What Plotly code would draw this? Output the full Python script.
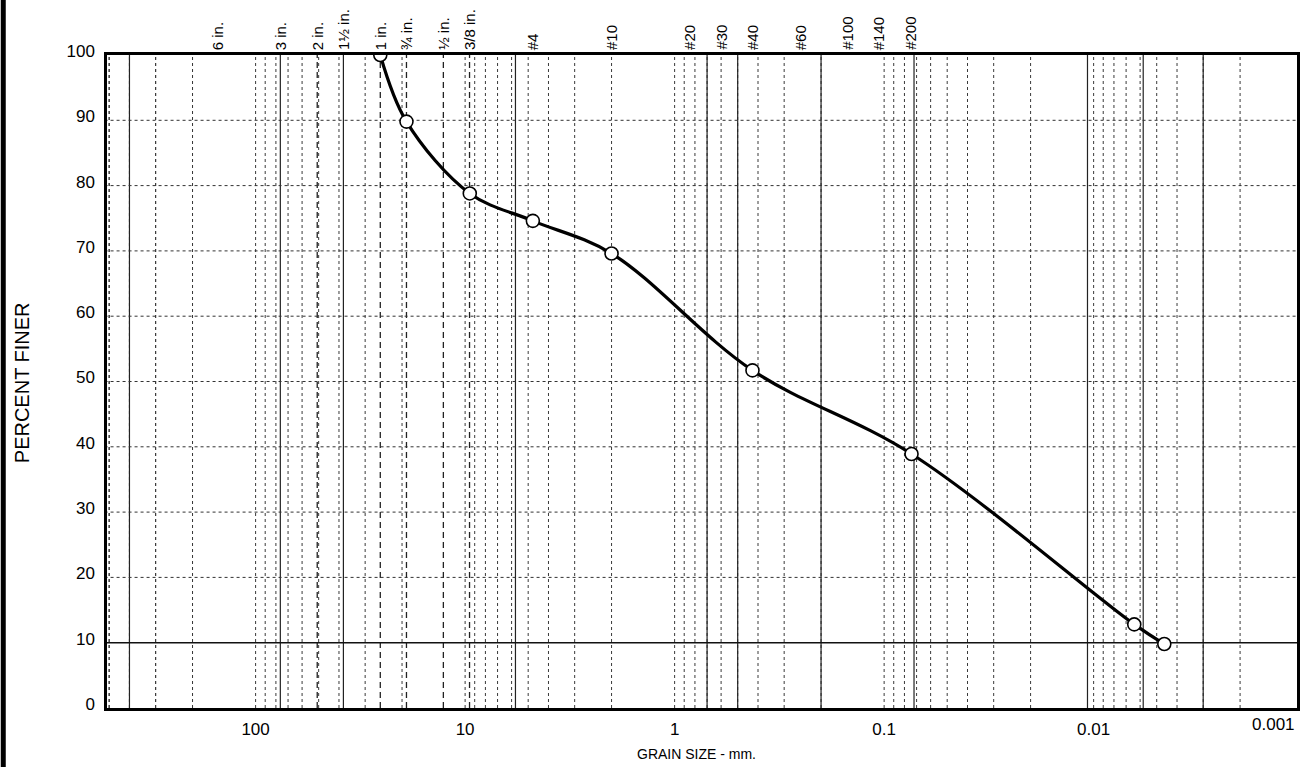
import numpy as np
import plotly.graph_objects as go

# ---- data ----
grain_mm = [25.4, 19.05, 9.5, 4.75, 2.0, 0.425, 0.074, 0.0064, 0.0046]
percent_finer = [100.0, 89.8, 78.8, 74.6, 69.6, 51.7, 38.9, 12.8, 9.8]

sieve_labels = ["6 in.", "3 in.", "2 in.", "1½ in.", "1 in.", "¾ in.", "½ in.", "3/8 in.",
                "#4", "#10", "#20", "#30", "#40", "#60", "#100", "#140", "#200"]
sieve_mm = [152.4, 76.2, 50.8, 38.1, 25.4, 19.05, 12.7, 9.525,
            4.75, 2.0, 0.85, 0.6, 0.425, 0.25, 0.15, 0.106, 0.075]

x_tick_vals = [100, 10, 1, 0.1, 0.01]
x_tick_text = ["100", "10", "1", "0.1", "0.01"]
x_last_label = "0.001"
y_tick_vals = list(range(0, 101, 10))

# grid sizes (mm)
minor_grid_mm = [n * 10.0 ** k for k in range(-3, 3) for n in range(1, 10)] + [200, 300, 400, 500]
heavy_grid_mm = [400, 76.2, 38.1, 5.75, 0.7, 0.5, 0.2, 0.072, 0.0107, 0.0058, 0.003]
dashed_grid_mm = [25.4, 19.05, 9.525, 50.8, 12.7]
h_dotted = [20, 30, 40, 50, 60, 70, 80, 90]
h_solid = [10]

FONT = "Liberation Sans, Arial, sans-serif"

fig = go.Figure()

def vlines(vals, **line):
    xs, ys = [], []
    for v in vals:
        xs += [v, v, None]
        ys += [0, 100, None]
    fig.add_trace(go.Scatter(x=xs, y=ys, mode="lines", line=line,
                             hoverinfo="skip", showlegend=False))

def hlines(vals, **line):
    xs, ys = [], []
    for v in vals:
        xs += [600, 0.0009, None]
        ys += [v, v, None]
    fig.add_trace(go.Scatter(x=xs, y=ys, mode="lines", line=line,
                             hoverinfo="skip", showlegend=False))

vlines(minor_grid_mm, color="#3a3a3a", width=1, dash="dot")
vlines(dashed_grid_mm, color="#222222", width=1.3, dash="6px,4px")
vlines(heavy_grid_mm, color="#222222", width=1.2)
hlines(h_dotted, color="#333333", width=1, dash="dot")
hlines(h_solid, color="#111111", width=1.4)

fig.add_trace(go.Scatter(
    x=grain_mm, y=percent_finer, mode="lines+markers",
    line=dict(color="black", width=3.2, shape="spline", smoothing=1.0),
    marker=dict(symbol="circle", size=13, color="white",
                line=dict(color="black", width=1.6)),
    showlegend=False))

annotations = []
for lab, mm in zip(sieve_labels, sieve_mm):
    annotations.append(dict(
        x=np.log10(mm), y=1, xref="x", yref="paper",
        text=lab, textangle=-90, showarrow=False,
        xanchor="center", yanchor="bottom", yshift=3,
        font=dict(family=FONT, size=15, color="black")))

annotations.append(dict(x=1, y=0, xref="paper", yref="paper", text=x_last_label,
                        showarrow=False, xanchor="right", yanchor="top", yshift=-5,
                        font=dict(family=FONT, size=17, color="black")))
annotations.append(dict(x=(22 - 107) / 1193, y=(708 - 383) / 653, xref="paper", yref="paper",
                        text="PERCENT FINER", textangle=-90, showarrow=False,
                        xanchor="center", yanchor="middle",
                        font=dict(family=FONT, size=20, color="black")))
annotations.append(dict(x=(698 - 107) / 1193, y=(708 - 754) / 653, xref="paper", yref="paper",
                        text="GRAIN SIZE - mm.", showarrow=False,
                        xanchor="center", yanchor="middle",
                        font=dict(family=FONT, size=14, color="black")))

fig.update_layout(
    width=1305, height=767,
    margin=dict(l=107, r=5, t=55, b=59),
    paper_bgcolor="white", plot_bgcolor="white",
    font=dict(family=FONT, size=17, color="black"),
    annotations=annotations,
    shapes=[dict(type="line", xref="paper", yref="paper",
                 x0=(3 - 107) / 1193, x1=(3 - 107) / 1193,
                 y0=(708 - 767) / 653, y1=708 / 653,
                 line=dict(color="black", width=5))],
)
fig.update_xaxes(type="log", range=[np.log10(512), np.log10(0.00107)],
                 tickvals=x_tick_vals, ticktext=x_tick_text, ticks="",
                 showgrid=False, zeroline=False, showline=True, mirror=True,
                 linecolor="black", linewidth=2.5, ticklabelstandoff=4,
                 tickfont=dict(family=FONT, size=17, color="black"))
fig.update_yaxes(range=[0, 100], tickvals=y_tick_vals, ticks="",
                 showgrid=False, zeroline=False, showline=True, mirror=True,
                 linecolor="black", linewidth=2.5, ticklabelstandoff=6,
                 ticklabelshift=-4,
                 tickfont=dict(family=FONT, size=17, color="black"))

fig.write_html("out.html", config={"displayModeBar": False},
               post_script="document.body.style.margin='0';document.body.style.overflow='hidden';")
